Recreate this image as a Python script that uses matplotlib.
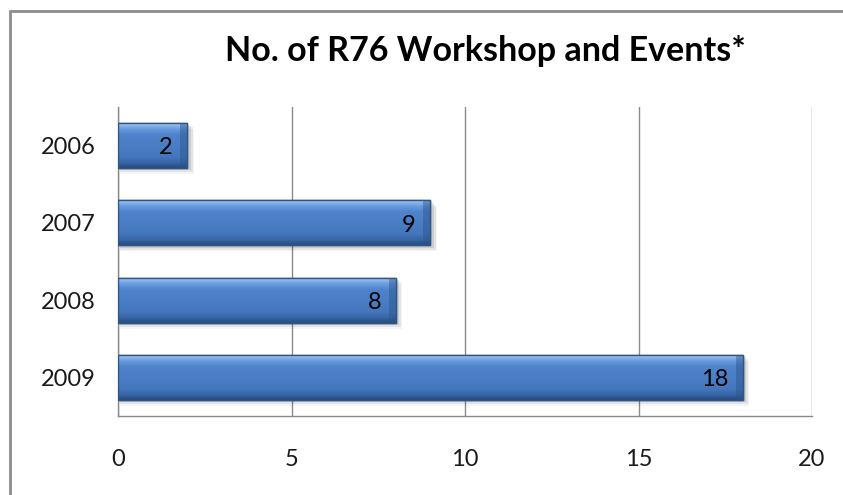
import numpy as np
import matplotlib
matplotlib.use("Agg")
import matplotlib.pyplot as plt
from matplotlib.patches import Rectangle
from matplotlib.colors import LinearSegmentedColormap

# chart data
years = ["2006", "2007", "2008", "2009"]
events = [2, 9, 8, 18]
x_ticks = [0, 5, 10, 15, 20]
title = "No. of R76 Workshop and Events*"

plt.rcParams["font.family"] = ["Lato", "DejaVu Sans"]

fig = plt.figure(figsize=(8.43, 4.95), dpi=100)
fig.patch.set_facecolor("white")

# outer chart border (runs off the right and bottom edge)
fig.add_artist(Rectangle((10 / 843, -0.05), 1.2, 1 - 11 / 495 + 0.05,
                         transform=fig.transFigure, fill=False,
                         edgecolor="#8c8c8c", linewidth=2))

ax = fig.add_axes([118 / 843, 1 - 416 / 495, (812 - 118) / 843, (416 - 107) / 495])

y = np.arange(len(years))
bar_h = 0.58

# bevelled look: light rim on top, flat middle, dark rim at the bottom
bevel = LinearSegmentedColormap.from_list("bevel", [
    (0.0, "#a4c6f2"), (0.12, "#6b9de0"), (0.25, "#4f84cc"),
    (0.75, "#4477bd"), (0.88, "#3866a8"), (1.0, "#284c80")])

for yi, v in zip(y, events):
    # soft shadow
    for k, a in enumerate([0.10, 0.07, 0.04]):
        d = 0.03 + k * 0.025
        ax.add_patch(Rectangle((0.05, yi - bar_h / 2 + d), v + 0.06 + k * 0.04, bar_h,
                               facecolor="black", alpha=a, edgecolor="none", zorder=2))
    bar = ax.barh(yi, v, height=bar_h, color="#4f81bd", edgecolor="#2f5688",
                  linewidth=1.0, zorder=3)[0]
    grad = np.linspace(0, 1, 100).reshape(-1, 1)
    im = ax.imshow(grad, cmap=bevel, aspect="auto", zorder=3.5,
                   extent=[0, v, yi + bar_h / 2, yi - bar_h / 2])
    im.set_clip_path(bar)
    # darker right-hand bevel
    ax.add_patch(Rectangle((v - 0.2, yi - bar_h / 2), 0.2, bar_h,
                           facecolor="#2c5489", alpha=0.45, edgecolor="none", zorder=3.6))
    ax.add_patch(Rectangle((0, yi - bar_h / 2), v, bar_h, fill=False,
                           edgecolor="#2f5688", linewidth=1.0, zorder=3.7))
    ax.text(v - 0.42, yi + 0.03, str(v), ha="right", va="center",
            fontsize=17, color="black", zorder=4)

ax.set_xlim(0, 20)
ax.set_ylim(len(years) - 0.5, -0.5)
ax.set_xticks(x_ticks)
ax.set_yticks(y)
ax.set_yticklabels(years)
ax.tick_params(axis="both", length=0, labelsize=17, colors="#1a1a1a")
ax.tick_params(axis="x", pad=24)
ax.tick_params(axis="y", pad=16)

ax.grid(axis="x", color="#8a8a8a", linewidth=1.0, zorder=0)
ax.set_axisbelow(True)
for s in ["top", "right"]:
    ax.spines[s].set_visible(False)
for s in ["left", "bottom"]:
    ax.spines[s].set_color("#8a8a8a")
    ax.spines[s].set_linewidth(1.0)

fig.text(485 / 843, 1 - 51 / 495, title, ha="center", va="center",
         fontsize=24.5, fontweight="bold", color="black")

fig.savefig("out.png", dpi=100)
